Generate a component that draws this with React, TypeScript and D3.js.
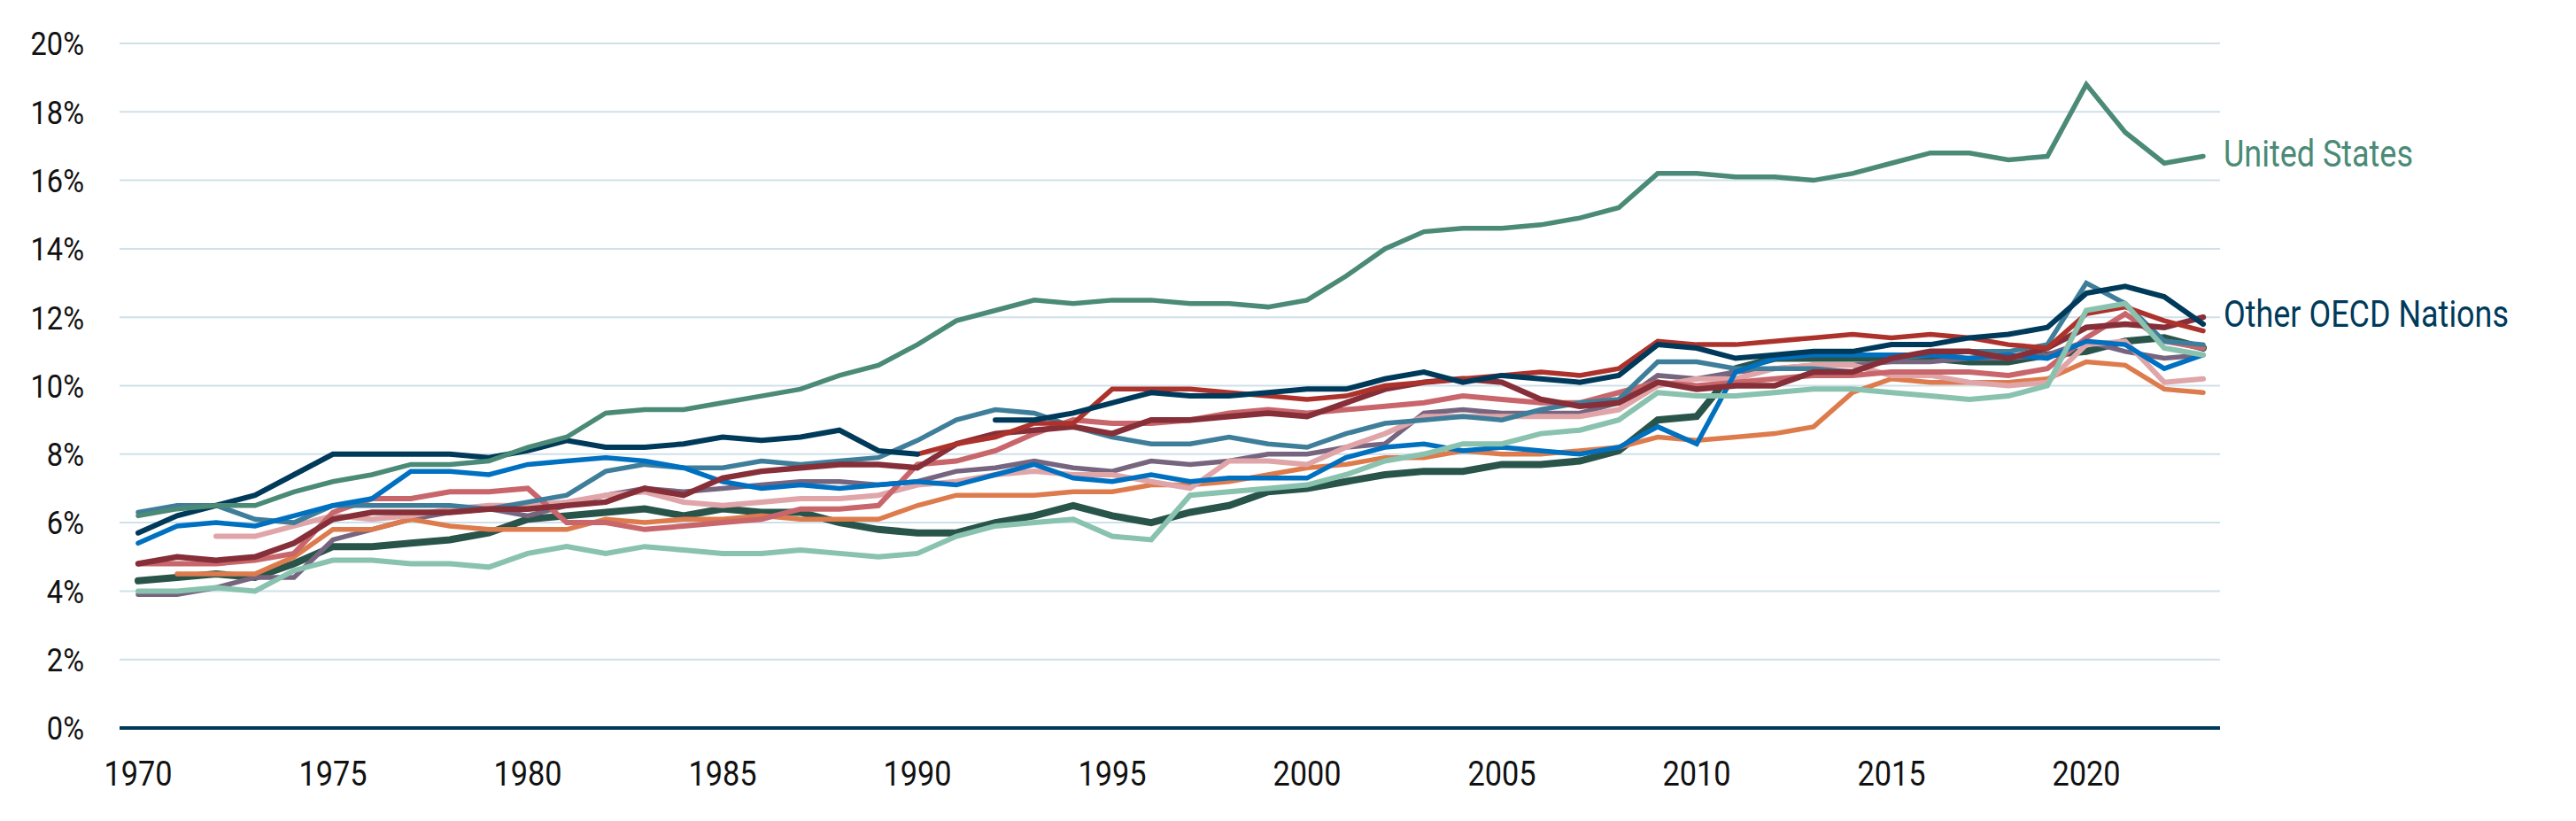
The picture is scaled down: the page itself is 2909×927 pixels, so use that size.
import React, { useEffect, useRef } from 'react';
import * as d3 from 'd3';

const WIDTH = 2909;
const HEIGHT = 927;

const years = d3.range(1970, 2024);
const xTicks = [1970, 1975, 1980, 1985, 1990, 1995, 2000, 2005, 2010, 2015, 2020];
const yTicks = [0, 2, 4, 6, 8, 10, 12, 14, 16, 18, 20];

// health spending, % of GDP, 1970..2023 (null = no data)
const unitedStates = [
  6.2, 6.4, 6.5, 6.5, 6.9, 7.2, 7.4, 7.7, 7.7, 7.8, 8.2,
  8.5, 9.2, 9.3, 9.3, 9.5, 9.7, 9.9, 10.3, 10.6, 11.2,
  11.9, 12.2, 12.5, 12.4, 12.5, 12.5, 12.4, 12.4, 12.3, 12.5,
  13.2, 14.0, 14.5, 14.6, 14.6, 14.7, 14.9, 15.2, 16.2, 16.2,
  16.1, 16.1, 16.0, 16.2, 16.5, 16.8, 16.8, 16.6, 16.7, 18.8,
  17.4, 16.5, 16.7,
];
const seriesNavy = [
  5.7, 6.2, 6.5, 6.8, 7.4, 8.0, 8.0, 8.0, 8.0, 7.9, 8.1,
  8.4, 8.2, 8.2, 8.3, 8.5, 8.4, 8.5, 8.7, 8.1, 8.0,
  null, 9.0, 9.0, 9.2, 9.5, 9.8, 9.7, 9.7, 9.8, 9.9,
  9.9, 10.2, 10.4, 10.1, 10.3, 10.2, 10.1, 10.3, 11.2, 11.1,
  10.8, 10.9, 11.0, 11.0, 11.2, 11.2, 11.4, 11.5, 11.7, 12.7,
  12.9, 12.6, 11.8,
];
const seriesSteel = [
  6.3, 6.5, 6.5, 6.1, 6.0, 6.5, 6.5, 6.5, 6.5, 6.4, 6.6,
  6.8, 7.5, 7.7, 7.6, 7.6, 7.8, 7.7, 7.8, 7.9, 8.4,
  9.0, 9.3, 9.2, 8.8, 8.5, 8.3, 8.3, 8.5, 8.3, 8.2,
  8.6, 8.9, 9.0, 9.1, 9.0, 9.3, 9.5, 9.6, 10.7, 10.7,
  10.5, 10.5, 10.5, 10.4, 10.8, 10.9, 11.0, 11.0, 11.2, 13.0,
  12.4, 11.3, 11.2,
];
const seriesBlue = [
  5.4, 5.9, 6.0, 5.9, 6.2, 6.5, 6.7, 7.5, 7.5, 7.4, 7.7,
  7.8, 7.9, 7.8, 7.6, 7.2, 7.0, 7.1, 7.0, 7.1, 7.2,
  7.1, 7.4, 7.7, 7.3, 7.2, 7.4, 7.2, 7.3, 7.3, 7.3,
  7.9, 8.2, 8.3, 8.1, 8.2, 8.1, 8.0, 8.2, 8.8, 8.3,
  10.4, 10.8, 10.9, 10.9, 10.9, 10.9, 10.8, 10.9, 10.8, 11.3,
  11.2, 10.5, 10.9,
];
const seriesSalmon = [
  4.8, 4.8, 4.8, 4.9, 5.1, 6.3, 6.7, 6.7, 6.9, 6.9, 7.0,
  6.0, 6.0, 5.8, 5.9, 6.0, 6.1, 6.4, 6.4, 6.5, 7.7,
  7.8, 8.1, 8.6, 9.0, 8.9, 8.9, 9.0, 9.2, 9.3, 9.2,
  9.3, 9.4, 9.5, 9.7, 9.6, 9.5, 9.5, 9.8, 10.1, 10.0,
  10.1, 10.2, 10.3, 10.3, 10.4, 10.4, 10.4, 10.3, 10.5, 11.4,
  12.1, 11.3, 11.1,
];
const seriesPink = [
  null, null, 5.6, 5.6, 5.9, 6.2, 6.1, 6.2, 6.4, 6.5, 6.5,
  6.6, 6.8, 6.9, 6.6, 6.5, 6.6, 6.7, 6.7, 6.8, 7.1,
  7.2, 7.4, 7.5, 7.4, 7.4, 7.2, 7.0, 7.8, 7.8, 7.7,
  8.2, 8.6, 9.1, 9.1, 9.1, 9.1, 9.1, 9.3, 10.0, 10.2,
  10.2, 10.5, 10.6, 10.6, 10.3, 10.3, 10.1, 10.0, 10.1, 11.2,
  11.3, 10.1, 10.2,
];
const seriesMaroon = [
  4.8, 5.0, 4.9, 5.0, 5.4, 6.1, 6.3, 6.3, 6.3, 6.4, 6.4,
  6.5, 6.6, 7.0, 6.8, 7.3, 7.5, 7.6, 7.7, 7.7, 7.6,
  8.3, 8.6, 8.7, 8.8, 8.6, 9.0, 9.0, 9.1, 9.2, 9.1,
  9.5, 9.9, 10.1, 10.2, 10.1, 9.6, 9.4, 9.5, 10.1, 9.9,
  10.0, 10.0, 10.4, 10.4, 10.8, 11.0, 11.0, 10.8, 11.1, 11.7,
  11.8, 11.7, 12.0,
];
const seriesRed = [
  null, null, null, null, null, null, null, null, null, null, null,
  null, null, null, null, null, null, null, null, null, 8.0,
  8.3, 8.5, 8.9, 8.9, 9.9, 9.9, 9.9, 9.8, 9.7, 9.6,
  9.7, 10.0, 10.1, 10.2, 10.3, 10.4, 10.3, 10.5, 11.3, 11.2,
  11.2, 11.3, 11.4, 11.5, 11.4, 11.5, 11.4, 11.2, 11.1, 12.1,
  12.3, 11.9, 11.6,
];
const seriesOrange = [
  null, 4.5, 4.5, 4.5, 5.0, 5.8, 5.8, 6.1, 5.9, 5.8, 5.8,
  5.8, 6.1, 6.0, 6.1, 6.1, 6.2, 6.1, 6.1, 6.1, 6.5,
  6.8, 6.8, 6.8, 6.9, 6.9, 7.1, 7.1, 7.2, 7.4, 7.6,
  7.7, 7.9, 7.9, 8.1, 8.0, 8.0, 8.1, 8.2, 8.5, 8.4,
  8.5, 8.6, 8.8, 9.8, 10.2, 10.1, 10.1, 10.1, 10.2, 10.7,
  10.6, 9.9, 9.8,
];
const seriesMauve = [
  3.9, 3.9, 4.1, 4.4, 4.4, 5.5, 5.8, 6.1, 6.3, 6.4, 6.2,
  6.5, 6.8, 7.0, 6.9, 7.0, 7.1, 7.2, 7.2, 7.1, 7.2,
  7.5, 7.6, 7.8, 7.6, 7.5, 7.8, 7.7, 7.8, 8.0, 8.0,
  8.2, 8.3, 9.2, 9.3, 9.2, 9.2, 9.2, 9.5, 10.3, 10.2,
  10.4, 10.5, 10.6, 10.6, 10.7, 10.7, 10.8, 10.8, 10.9, 11.3,
  11.0, 10.8, 10.9,
];
const seriesMint = [
  4.0, 4.0, 4.1, 4.0, 4.6, 4.9, 4.9, 4.8, 4.8, 4.7, 5.1,
  5.3, 5.1, 5.3, 5.2, 5.1, 5.1, 5.2, 5.1, 5.0, 5.1,
  5.6, 5.9, 6.0, 6.1, 5.6, 5.5, 6.8, 6.9, 7.0, 7.1,
  7.4, 7.8, 8.0, 8.3, 8.3, 8.6, 8.7, 9.0, 9.8, 9.7,
  9.7, 9.8, 9.9, 9.9, 9.8, 9.7, 9.6, 9.7, 10.0, 12.2,
  12.4, 11.1, 10.9,
];
const seriesDarkGreen = [
  4.3, 4.4, 4.5, 4.4, 4.8, 5.3, 5.3, 5.4, 5.5, 5.7, 6.1,
  6.2, 6.3, 6.4, 6.2, 6.4, 6.3, 6.3, 6.0, 5.8, 5.7,
  5.7, 6.0, 6.2, 6.5, 6.2, 6.0, 6.3, 6.5, 6.9, 7.0,
  7.2, 7.4, 7.5, 7.5, 7.7, 7.7, 7.8, 8.1, 9.0, 9.1,
  10.5, 10.8, 10.8, 10.8, 10.8, 10.8, 10.7, 10.7, 10.9, 11.0,
  11.3, 11.4, 11.1,
];

// drawing order: first is at the bottom
const lines = [
  { values: seriesDarkGreen, color: '#29544a', width: 8 },
  { values: seriesMauve, color: '#77657f', width: 5.5 },
  { values: seriesOrange, color: '#de7b4c', width: 5.5 },
  { values: seriesPink, color: '#e0a5a9', width: 6 },
  { values: seriesSalmon, color: '#c8666c', width: 6 },
  { values: seriesSteel, color: '#3f7e9a', width: 5.5 },
  { values: seriesBlue, color: '#0070c0', width: 5.5 },
  { values: seriesMaroon, color: '#862f38', width: 6.5 },
  { values: seriesRed, color: '#ad322b', width: 5.5 },
  { values: seriesNavy, color: '#003a5a', width: 6 },
  { values: seriesMint, color: '#89c2ae', width: 6 },
  { values: unitedStates, color: '#4a8a76', width: 5.5 },
];

const condense = (sel: d3.Selection<SVGTextElement, any, any, any>, k: number) => {
  sel.each(function () {
    const len = this.getComputedTextLength();
    d3.select(this).attr('textLength', len * k).attr('lengthAdjust', 'spacingAndGlyphs');
  });
};

export default function App() {
  const svgRef = useRef<SVGSVGElement>(null);

  useEffect(() => {
    document.body.style.margin = '0';
    if (!svgRef.current) return;
    const svg = d3.select(svgRef.current);
    svg.selectAll('*').remove();

    const x = d3.scaleLinear().domain([1970, 2023]).range([156, 2488]);
    const y = d3.scaleLinear().domain([0, 20]).range([822, 49]);
    const gridLeft = 135;
    const gridRight = 2507;

    svg.append('rect').attr('width', WIDTH).attr('height', HEIGHT).attr('fill', '#fff');

    // gridlines
    svg.append('g')
      .selectAll('line')
      .data(yTicks.filter((t) => t > 0))
      .join('line')
      .attr('x1', gridLeft)
      .attr('x2', gridRight)
      .attr('y1', (d) => y(d))
      .attr('y2', (d) => y(d))
      .attr('stroke', '#cfe0e9')
      .attr('stroke-width', 2);

    // y tick labels
    const yLabels = svg.append('g')
      .selectAll('text')
      .data(yTicks)
      .join('text')
      .attr('x', 95)
      .attr('y', (d) => y(d))
      .attr('dy', '0.36em')
      .attr('text-anchor', 'end')
      .attr('font-family', 'Roboto, sans-serif')
      .attr('font-size', 37)
      .attr('fill', '#111')
      .text((d) => `${d}%`);
    condense(yLabels as any, 0.88);

    // x tick labels
    const xLabels = svg.append('g')
      .selectAll('text')
      .data(xTicks)
      .join('text')
      .attr('x', (d) => x(d))
      .attr('y', 887)
      .attr('text-anchor', 'middle')
      .attr('font-family', 'Roboto, sans-serif')
      .attr('font-size', 39)
      .attr('fill', '#111')
      .text((d) => String(d));
    condense(xLabels as any, 0.88);

    const line = d3
      .line<number | null>()
      .defined((d) => d != null)
      .x((_, i) => x(years[i]))
      .y((d) => y(d as number))
      .curve(d3.curveLinear);

    svg.append('g')
      .selectAll('path')
      .data(lines)
      .join('path')
      .attr('d', (d) => line(d.values))
      .attr('fill', 'none')
      .attr('stroke', (d) => d.color)
      .attr('stroke-width', (d) => d.width)
      .attr('stroke-linecap', 'round')
      .attr('stroke-linejoin', 'miter');

    // baseline
    svg.append('line')
      .attr('x1', gridLeft)
      .attr('x2', gridRight)
      .attr('y1', y(0))
      .attr('y2', y(0))
      .attr('stroke', '#003a5a')
      .attr('stroke-width', 4);

    svg.append('text')
      .attr('x', 2511)
      .attr('y', 188)
      .attr('font-family', 'Roboto, sans-serif')
      .attr('font-size', 42)
      .attr('fill', '#4a8a76')
      .attr('textLength', 214)
      .attr('lengthAdjust', 'spacingAndGlyphs')
      .text('United States');

    svg.append('text')
      .attr('x', 2511)
      .attr('y', 369)
      .attr('font-family', 'Roboto, sans-serif')
      .attr('font-size', 42)
      .attr('fill', '#003a5a')
      .attr('textLength', 322)
      .attr('lengthAdjust', 'spacingAndGlyphs')
      .text('Other OECD Nations');
  }, []);

  return (
    <div style={{ width: WIDTH, height: HEIGHT }}>
      <svg ref={svgRef} width={WIDTH} height={HEIGHT} style={{ display: 'block' }} />
    </div>
  );
}
